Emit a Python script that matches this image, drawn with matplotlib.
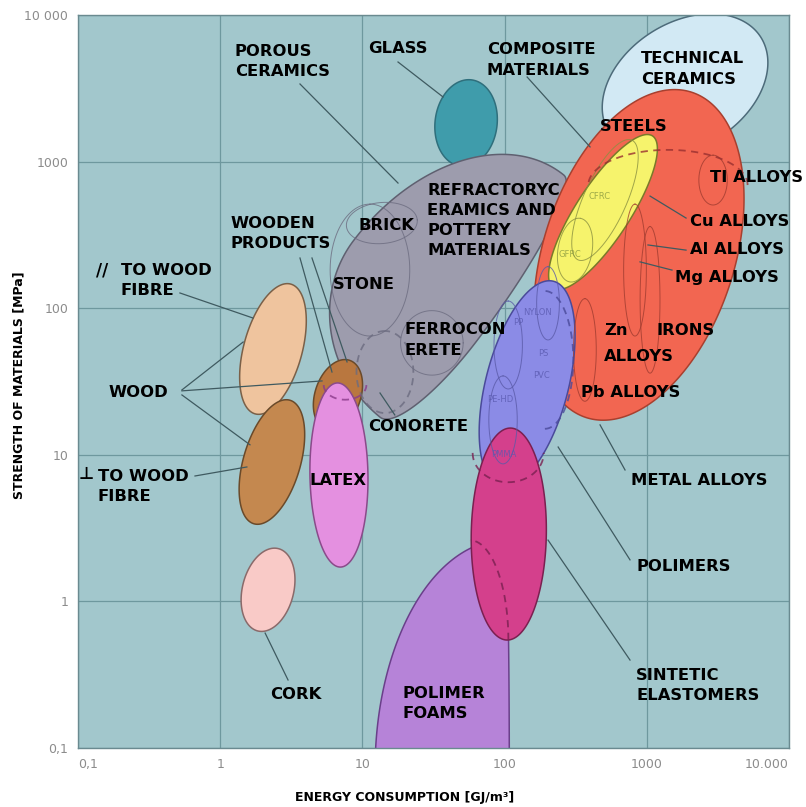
import numpy as np
import matplotlib
matplotlib.use("Agg")
import matplotlib.pyplot as plt

# ---------------- data ----------------
# material regions: centre (energy GJ/m3, strength MPa), semi-axes in decades, tilt (deg)
reg_names = ["technical ceramics", "glass", "refractory/stone", "metal alloys", "composites",
             "polymers", "polymer foams", "synthetic elastomers", "wood parallel",
             "wood perpendicular", "cork", "wooden products", "latex"]
reg_cx = [1858, 53.6, 43.4, 880, 492, 144, 100.7, 107, 2.35, 2.31, 2.17, 6.73, 6.84]
reg_cy = [3327, 1832, 81.8, 231, 453, 30.4, 0.0708, 2.88, 52.7, 8.93, 1.20, 25.6, 7.28]
reg_apos = [0.625, 0.297, 1.264, 1.17, 0.625, 0.725, 1.569, 0.723, 0.46, 0.44, 0.29, 0.25, 0.628]
reg_aneg = [0.625, 0.297, 0.833, 1.17, 0.625, 0.725, 0.34, 0.723, 0.46, 0.44, 0.29, 0.25, 0.628]
reg_bpos = [0.43, 0.218, 0.889, 0.67, 0.1875, 0.29, 0.914, 0.264, 0.205, 0.2, 0.18, 0.16, 0.204]
reg_bneg = [0.43, 0.218, 0.215, 0.67, 0.1875, 0.29, 0.03, 0.264, 0.205, 0.2, 0.18, 0.16, 0.204]
reg_ang = [30, 82, 52, 71, 56, 75, 90, 89, 74, 73, 75, 70, 91]
reg_face = ["#d2e9f4", "#3f9cab", "#9d9cad", "#f26651", "#f6f36c", "#8b8be6", "#b683d8",
            "#d4408c", "#efc49e", "#c4884f", "#f9cac7", "#b9773f", "#e490e0"]
reg_edge = ["#4d6b7a", "#2f6f7c", "#5f6070", "#a8402f", "#7a7a2a", "#4a4a9a", "#6a3f8a",
            "#7a2050", "#7a6048", "#6a4a2a", "#8a6a6a", "#6a4a2a", "#8a4a8a"]

# thin sub-region outlines: centre, semi-axes (decades), tilt, arc range (deg), dashed
sub_cx = [13.7, 11.3, 30.8, 14.4, 2924, 826, 1054, 367, 508, 313, 106, 202, 97.5, 1409, 192, 7.55, 106, 57.1]
sub_cy = [381, 182, 58.0, 36.7, 748, 182, 114, 51.9, 547, 249, 56.1, 108, 17.3, 692, 44.4, 29.9, 10.3, 0.546]
sub_a = [0.25, 0.45, 0.22, 0.28, 0.17, 0.45, 0.5, 0.35, 0.45, 0.22, 0.3, 0.25, 0.3, 0.56, 0.47, 0.15, 0.25, 0.68]
sub_b = [0.14, 0.28, 0.22, 0.2, 0.1, 0.08, 0.07, 0.08, 0.15, 0.12, 0.1, 0.08, 0.1, 0.24, 0.2, 0.1, 0.2, 0.27]
sub_ang = [5, 90, 0, 90, 90, 90, 90, 90, 65, 80, 90, 90, 90, 0, 90, 0, 0, 90]
sub_t0 = [0, 0, 0, 0, 0, 0, 0, 0, 0, 0, 0, 0, 0, 0, 180, 180, 180, -90]
sub_t1 = [360, 360, 360, 360, 360, 360, 360, 360, 360, 360, 360, 360, 360, 180, 360, 360, 360, 0]
sub_dash = [False, False, False, True, False, False, False, False, False, False, False, False,
            False, True, True, True, True, True]
sub_col = ["#6c6c80", "#6c6c80", "#6c6c80", "#6c6c80", "#a03c30", "#a03c30", "#a03c30", "#a03c30",
           "#8a9040", "#8a9040", "#5a5aa8", "#5a5aa8", "#5a5aa8", "#9a3030", "#4a4a9a", "#8a3a8a",
           "#7a2050", "#7a2050"]

# small grey-blue sub labels
small_txt = ["NYLON", "PP", "PS", "PVC", "PE-HD", "PMMA", "CFRC", "GFRC"]
small_x = [169, 124, 186, 183, 92.9, 98, 469, 288]
small_y = [94.2, 79.3, 49.4, 35.0, 24.0, 9.98, 574, 231]
small_col = ["#5a5ab0"] * 6 + ["#8a9a40", "#8a9a40"]

# big labels: text, left x, centre y (data)
lab_txt = ["POROUS\nCERAMICS", "GLASS", "COMPOSITE\nMATERIALS", "TECHNICAL\nCERAMICS", "STEELS",
           "TI ALLOYS", "Cu ALLOYS", "Al ALLOYS", "Mg ALLOYS",
           "REFRACTORYC\nERAMICS AND\nPOTTERY\nMATERIALS", "BRICK", "WOODEN\nPRODUCTS",
           "TO WOOD\nFIBRE", "STONE", "FERROCON\nERETE", "Zn", "ALLOYS", "IRONS", "Pb ALLOYS",
           "WOOD", "CONORETE", "TO WOOD\nFIBRE", "LATEX", "METAL ALLOYS", "POLIMERS",
           "SINTETIC\nELASTOMERS", "CORK", "POLIMER\nFOAMS"]
lab_x = [1.27, 10.9, 75, 910, 469, 2780, 2013, 2013, 1578, 28.5, 9.46, 1.19, 0.20, 6.21, 19.9,
         500, 500, 1161, 344, 0.163, 10.9, 0.138, 4.28, 774, 840, 840, 2.24, 19.0]
lab_y = [4853, 5866, 4932, 4282, 1722, 773, 393, 253, 163, 396, 364, 321, 155, 146, 60.7, 71,
         46.5, 71, 26.8, 26.4, 15.7, 6.1, 6.73, 6.73, 1.74, 0.265, 0.230, 0.200]

# leader lines: (x0, y0) -> (x1, y1)
lead_x0 = [3.64, 17.8, 144, 3.64, 4.42, 0.521, 0.538, 0.538, 0.538, 0.665, 16.9, 703, 762, 762, 3.0, 1888, 1888, 1504]
lead_y0 = [3384, 4780, 3776, 220, 220, 127, 27.7, 27.3, 25.6, 7.17, 18.7, 7.88, 1.92, 0.398, 0.291, 412, 249, 182]
lead_x1 = [17.8, 36.9, 399, 6.11, 7.80, 1.70, 1.45, 5.20, 1.62, 1.54, 13.3, 469, 238, 202, 2.07, 1054, 1019, 896]
lead_y1 = [714, 2760, 1259, 36.7, 43.0, 85.7, 58.8, 31.9, 11.7, 8.26, 26.4, 16.0, 11.3, 2.62, 0.608, 582, 270, 207]

xticks = [0.1, 1, 10, 100, 1000, 10000]
xtick_labels = ["0,1", "1", "10", "100", "1000", "10.000"]
yticks = [0.1, 1, 10, 100, 1000, 10000]
ytick_labels = ["0,1", "1", "10", "100", "1000", "10 000"]


def egg_xy(cx, cy, apos, aneg, bpos, bneg, ang, t0=0, t1=360, n=400):
    t = np.radians(np.linspace(t0, t1, n))
    c, s = np.cos(t), np.sin(t)
    u = np.where(c >= 0, apos, aneg) * c
    v = np.where(s >= 0, bpos, bneg) * s
    th = np.radians(ang)
    lx = np.log10(cx) + u * np.cos(th) - v * np.sin(th)
    ly = np.log10(cy) + u * np.sin(th) + v * np.cos(th)
    return 10 ** lx, 10 ** ly


fig = plt.figure(figsize=(8.06, 8.07), dpi=100)
ax = fig.add_axes([78 / 806, 1 - 748 / 807, (789 - 78) / 806, (748 - 15) / 807])
ax.set_xscale("log")
ax.set_yscale("log")
ax.set_xlim(0.1, 10000)
ax.set_ylim(0.1, 10000)
ax.set_facecolor("#a2c7cc")
ax.grid(True, which="major", color="#6e989e", lw=0.9, zorder=0.5)
ax.minorticks_off()
ax.set_xticks(xticks)
ax.set_xticklabels(xtick_labels)
ax.set_yticks(yticks)
ax.set_yticklabels(ytick_labels)
ax.tick_params(length=0, colors="#8c8c8c", labelsize=9, pad=7)
xl = ax.get_xticklabels()
xl[0].set_horizontalalignment("left")
xl[-1].set_horizontalalignment("right")
for sp in ax.spines.values():
    sp.set_color("#6a8a90")
    sp.set_linewidth(1.0)

for i in range(len(reg_names)):
    xs, ys = egg_xy(reg_cx[i], reg_cy[i], reg_apos[i], reg_aneg[i], reg_bpos[i], reg_bneg[i], reg_ang[i])
    ax.fill(xs, ys, facecolor=reg_face[i], edgecolor=reg_edge[i], lw=1.1, zorder=2 + i * 0.01)

for i in range(len(sub_cx)):
    xs, ys = egg_xy(sub_cx[i], sub_cy[i], sub_a[i], sub_a[i], sub_b[i], sub_b[i], sub_ang[i],
                    sub_t0[i], sub_t1[i])
    ax.plot(xs, ys, color=sub_col[i], lw=1.3 if sub_dash[i] else 0.7,
            ls=(0, (4, 3)) if sub_dash[i] else "-", alpha=0.8, zorder=3)

for i in range(len(small_txt)):
    ax.text(small_x[i], small_y[i], small_txt[i], fontsize=6, color=small_col[i],
            ha="center", va="center", alpha=0.8, zorder=3.5)

for i in range(len(lead_x0)):
    ax.plot([lead_x0[i], lead_x1[i]], [lead_y0[i], lead_y1[i]], color="#3f5a60", lw=0.9, zorder=4)

for i in range(len(lab_txt)):
    ax.text(lab_x[i], lab_y[i], lab_txt[i], fontsize=11.8, fontweight="bold", color="black",
            ha="left", va="center", linespacing=1.42, zorder=5, family="DejaVu Sans")

# fibre direction symbols
ax.text(0.133, 182, "//", fontsize=12, fontweight="heavy", ha="left", va="center", zorder=5)
ax.text(0.1015, 7.40, "⊥", fontsize=12, fontweight="bold", ha="left", va="center", zorder=5)

fig.text(405 / 806, 1 - 797 / 807, "ENERGY CONSUMPTION [GJ/m³]", fontsize=9, fontweight="bold",
         ha="center", va="center")
fig.text(19 / 806, 1 - 385 / 807, "STRENGTH OF MATERIALS [MPa]", fontsize=9, fontweight="bold",
         ha="center", va="center", rotation=90)

fig.savefig("out.png", dpi=100)
